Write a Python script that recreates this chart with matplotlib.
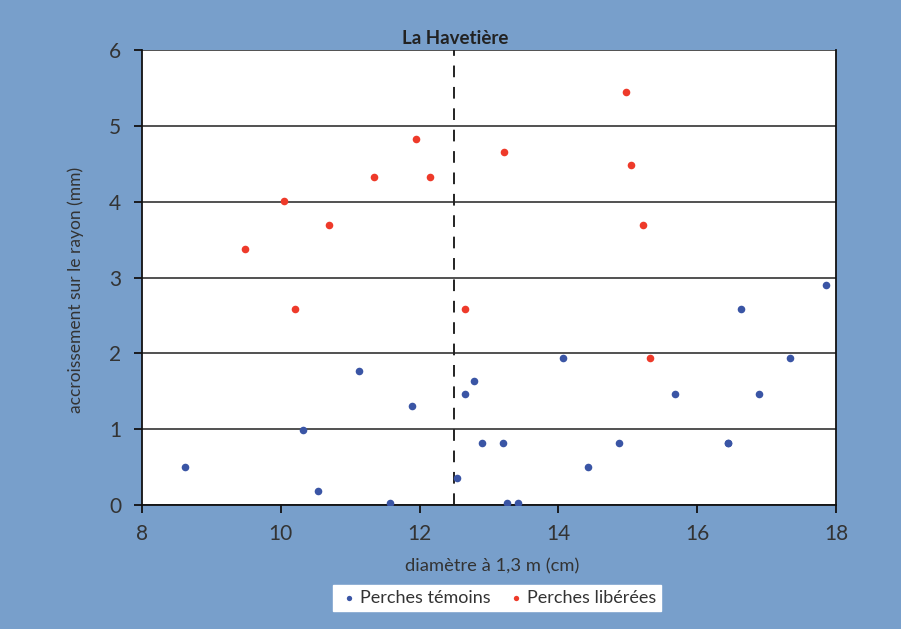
import numpy as np
import matplotlib
matplotlib.use("Agg")
import matplotlib.pyplot as plt

# Perches témoins (blue)
temoins_x = [8.62, 10.32, 10.54, 11.12, 11.57, 11.89, 12.54, 12.65, 12.78, 12.90,
             13.20, 13.26, 13.42, 14.07, 14.43, 14.88, 15.68, 16.44, 16.44, 16.63,
             16.89, 17.33, 17.86]
temoins_y = [0.50, 0.99, 0.19, 1.77, 0.02, 1.30, 0.35, 1.46, 1.63, 0.82,
             0.82, 0.02, 0.02, 1.94, 0.50, 0.82, 1.46, 0.82, 0.82, 2.58,
             1.46, 1.94, 2.90]

# Perches libérées (red)
liberees_x = [9.49, 10.04, 10.20, 10.70, 11.35, 11.95, 12.15, 12.65, 13.22,
              14.97, 15.04, 15.22, 15.32]
liberees_y = [3.38, 4.01, 2.58, 3.69, 4.32, 4.82, 4.32, 2.58, 4.65,
              5.45, 4.49, 3.69, 1.94]

seuil = 12.5
title = "La Havetière"
bg = "#789fcb"
txt = "#333333"

plt.rcParams['font.family'] = ['Lato', 'DejaVu Sans']

fig = plt.figure(figsize=(9.01, 6.29), dpi=100, facecolor=bg)
ax = fig.add_axes([142 / 901, 1 - 505 / 629, (836 - 142) / 901, (505 - 50) / 629])
ax.set_facecolor("white")

ax.scatter(temoins_x, temoins_y, s=30, color="#3a55a5", zorder=3, label="Perches témoins",
           linewidths=0)
ax.scatter(liberees_x, liberees_y, s=30, color="#ee3a2a", zorder=3, label="Perches libérées",
           linewidths=0)
ax.axvline(seuil, color="#222222", lw=1.4, ls=(0, (6, 5)), zorder=2)

ax.set_xlim(8, 18)
ax.set_ylim(0, 6)
ax.set_xticks(np.arange(8, 19, 2))
ax.set_yticks(np.arange(0, 7, 1))
ax.yaxis.grid(True, color="#333333", lw=1.2)
ax.set_axisbelow(True)
for s in ax.spines.values():
    s.set_color("#111111")
    s.set_linewidth(1.3)
ax.spines['top'].set_visible(False)
ax.tick_params(axis='both', colors="#111111", length=6, width=1.3, labelsize=15,
               labelcolor=txt, direction='out')
ax.tick_params(axis='y', pad=9)
ax.tick_params(axis='x', pad=8)

fig.text(455 / 901, 1 - 38 / 629, title, ha='center', va='center', fontsize=13.5,
         fontweight='bold', color="#222222")
fig.text(492 / 901, 1 - 566 / 629, "diamètre à 1,3 m (cm)", ha='center', va='center',
         fontsize=13.2, color=txt)
fig.text(76 / 901, 1 - 290 / 629, "accroissement sur le rayon (mm)", ha='center',
         va='center', rotation=90, fontsize=12.5, color=txt)

leg = fig.legend(loc='center', bbox_to_anchor=(497 / 901, 1 - 598 / 629), ncol=2,
                 frameon=True, fancybox=False, fontsize=13, markerscale=0.7,
                 handletextpad=0.0, columnspacing=0.8, borderpad=0.3,
                 handlelength=1.2)
leg.get_frame().set_facecolor("white")
leg.get_frame().set_edgecolor("white")
leg.get_frame().set_alpha(1)
for t in leg.get_texts():
    t.set_color(txt)

fig.savefig("out.png", dpi=100, facecolor=bg)
